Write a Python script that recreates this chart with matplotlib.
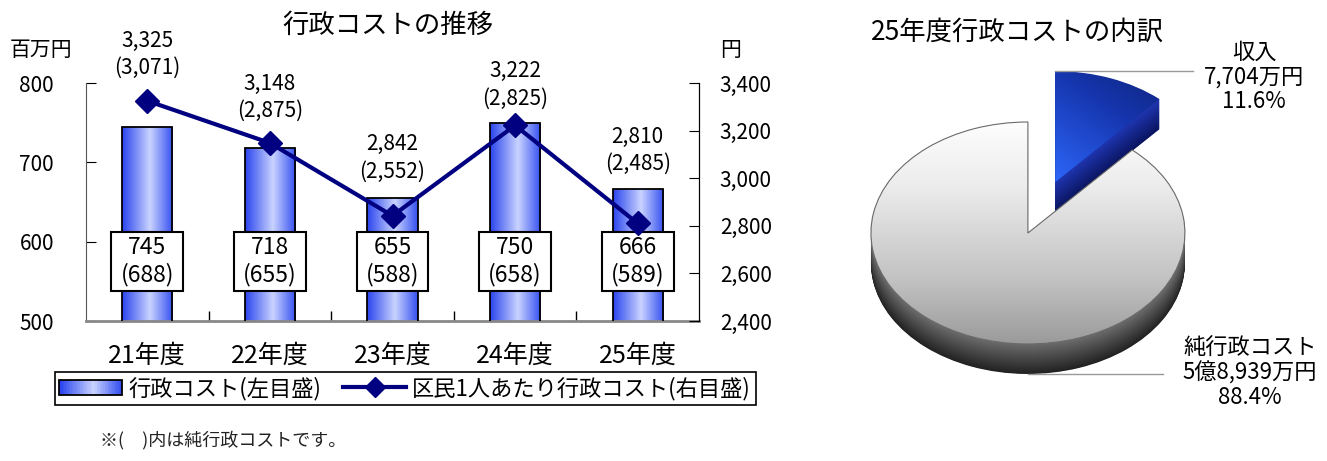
import numpy as np
import matplotlib
matplotlib.use('Agg')
import matplotlib.pyplot as plt
from matplotlib.patches import Rectangle
from matplotlib.colors import LinearSegmentedColormap, to_rgb
from matplotlib.legend_handler import HandlerBase
from matplotlib.lines import Line2D

plt.rcParams['font.family'] = ['Noto Sans CJK JP', 'DejaVu Sans']

# ---------------- data ----------------
years = ['21年度', '22年度', '23年度', '24年度', '25年度']
cost = [745, 718, 655, 750, 666]              # 行政コスト (百万円)
net_cost = [688, 655, 588, 658, 589]          # 純行政コスト (百万円)
per_capita = [3325, 3148, 2842, 3222, 2810]   # 区民1人あたり行政コスト (円)
per_capita_net = [3071, 2875, 2552, 2825, 2485]
left_ticks = [500, 600, 700, 800]
right_ticks = [2400, 2600, 2800, 3000, 3200, 3400]

pie_labels = ['収入', '純行政コスト']
pie_amounts = ['7,704万円', '5億8,939万円']
pie_values = [7704, 58939]

# label offsets above line points (points) - layout only
label_offsets = [16, 15, 24, 11.5, 35]

# ---------------- figure ----------------
W, H = 1327, 461
fig = plt.figure(figsize=(W / 100, H / 100), dpi=100)


def fx(px):
    return px / W


def fy(py):
    return 1 - py / H


NAVY = '#000080'
bar_cmap = LinearSegmentedColormap.from_list(
    'bar', [(0, '#2a44ee'), (0.55, '#c9d3ff'), (1, '#3550f0')])

ax = fig.add_axes([fx(86), fy(321), fx(699) - fx(86), fy(83) - fy(321)])
ax2 = ax.twinx()
x = np.arange(len(years))

bw = 0.41
bars = ax.bar(x, cost, width=bw, facecolor='none', edgecolor='black',
              linewidth=1.3, zorder=3)
grad = np.linspace(0, 1, 256).reshape(1, -1)
for b in bars:
    im = ax.imshow(grad, cmap=bar_cmap, aspect='auto', zorder=2,
                   extent=(b.get_x(), b.get_x() + b.get_width(), 500, b.get_height()))
    im.set_clip_path(b)

# value boxes on bars
box_w, box_h, box_c = 0.587, 75, 575
for xi, c, n in zip(x, cost, net_cost):
    ax.add_patch(Rectangle((xi - box_w / 2, box_c - box_h / 2), box_w, box_h,
                           facecolor='white', edgecolor='black', lw=1.5, zorder=4))
    ax.text(xi, box_c, f'{c}\n({n})', ha='center', va='center', fontsize=16.5,
            linespacing=1.2, zorder=5)

ax.set_xlim(-0.5, len(years) - 0.5)
ax.set_ylim(left_ticks[0], left_ticks[-1])
ax.set_yticks(left_ticks)
ax.set_xticks(x, years)
ax.set_xticks(x[:-1] + 0.5, minor=True)
ax.tick_params(axis='x', which='major', length=0, pad=16, labelsize=18)
ax.tick_params(axis='x', which='minor', direction='in', length=7, width=1)
ax.tick_params(axis='y', direction='in', length=7, pad=23, labelsize=15)

ax2.plot(x, per_capita, color=NAVY, lw=3, marker='D', ms=12, zorder=6)
for xi, v, n, off in zip(x, per_capita, per_capita_net, label_offsets):
    ax2.annotate(f'{v:,}\n({n:,})', (xi, v), xytext=(0, off),
                 textcoords='offset points', ha='center', va='bottom',
                 fontsize=15, linespacing=1.3)
ax2.set_ylim(right_ticks[0], right_ticks[-1])
ax2.set_yticks(right_ticks, [f'{t:,}' for t in right_ticks])
ax2.tick_params(axis='y', direction='in', length=7, pad=15, labelsize=15)

for a in (ax, ax2):
    a.spines['top'].set_visible(False)
    a.patch.set_visible(False)
ax.spines['left'].set_color('#555555')
ax.spines['bottom'].set_color('#888888')
ax.spines['bottom'].set_linewidth(2)
ax2.spines['left'].set_visible(False)
ax2.spines['bottom'].set_visible(False)
ax2.spines['right'].set_color('black')

fig.text(fx(388), fy(25), '行政コストの推移', ha='center', va='center', fontsize=19)
fig.text(fx(41), fy(50), '百万円', ha='center', va='center', fontsize=15)
fig.text(fx(731), fy(50), '円', ha='center', va='center', fontsize=15)


# legend
class GradHandler(HandlerBase):
    def create_artists(self, legend, orig_handle, xdescent, ydescent,
                       width, height, fontsize, trans):
        n = 40
        arts = []
        x0, y0 = -xdescent, -ydescent
        cols = bar_cmap(np.linspace(0, 1, n))
        for i in range(n):
            arts.append(Rectangle((x0 + width * i / n, y0), width / n + 0.3, height,
                                  facecolor=cols[i], edgecolor='none', transform=trans))
        arts.append(Rectangle((x0, y0), width, height, facecolor='none',
                              edgecolor='black', lw=1.3, transform=trans))
        return arts


bar_proxy = Rectangle((0, 0), 1, 1)
line_proxy = Line2D([], [], color=NAVY, lw=3, marker='D', ms=10)
fig.legend([bar_proxy, line_proxy],
           ['行政コスト(左目盛)', '区民1人あたり行政コスト(右目盛)'],
           handler_map={Rectangle: GradHandler()},
           loc='upper left', bbox_to_anchor=(fx(55), fy(372)), ncol=2,
           frameon=True, fancybox=False, edgecolor='black', framealpha=1,
           fontsize=16, handlelength=2.8, handletextpad=0.3,
           columnspacing=1.0, borderpad=0.2, borderaxespad=0)
fig.legends[0].get_frame().set_linewidth(1.2)

fig.text(fx(100), fy(440), '※(\u3000)内は純行政コストです。', ha='left', va='center',
         fontsize=13, color='#222222')

# ---------------- pie ----------------
pa = fig.add_axes([fx(840), 0, fx(1327) - fx(840), 1])
explode = [0.49, 0]
depth = 0.27
N = 50


def blend(c1, c2, t):
    a, b = np.array(to_rgb(c1)), np.array(to_rgb(c2))
    return tuple(a + (b - a) * t)


for k in range(N, 0, -1):
    t = k / N
    pa.pie(pie_values, explode=explode, startangle=90, counterclock=False,
           center=(0, -depth * t), colors=[blend('#1f35b0', '#0a1560', t),
                                           blend('#6c6c6c', '#222222', t)],
           wedgeprops=dict(linewidth=0))

wedges, _ = pa.pie(pie_values, explode=explode, startangle=90, counterclock=False,
                   colors=['none', 'none'], wedgeprops=dict(linewidth=0))
wedges[1].set_edgecolor('#6a6a6a')
wedges[1].set_linewidth(0.8)

# white top gradient
gw = np.linspace(0, 1, 256).reshape(-1, 1)
wcmap = LinearSegmentedColormap.from_list(
    'w', [(0, '#ffffff'), (0.3, '#ececec'), (0.7, '#c2c2c2'), (1, '#979797')])
imw = pa.imshow(gw, cmap=wcmap, aspect='auto', extent=(-1.05, 1.05, -1.05, 1.05), zorder=2)
imw.set_clip_path(wedges[1])
# blue top gradient (diagonal)
yy, xx = np.mgrid[0:1:128j, 0:1:128j]
gb = np.clip((yy + (1 - xx)) / 2, 0, 1)
bcmap = LinearSegmentedColormap.from_list('b', ['#0a1a5c', '#1636b0', '#2f6bff'])
cx, cy = wedges[0].center
imb = pa.imshow(gb, cmap=bcmap, aspect='auto', zorder=2,
                extent=(cx - 0.05, cx + 1.05, cy - 0.05, cy + 1.05))
imb.set_clip_path(wedges[0])
for w in wedges:
    w.set_zorder(3)

pa.set_aspect('auto')
pa.set_xlim(-1.197, 1.905)
pa.set_ylim(-2.054, 2.099)
pa.axis('off')

# leader lines and labels
total = sum(pie_values)
pct = [v / total * 100 for v in pie_values]
pa.plot([cx, 1.051], [cy + 1, cy + 1], color='#999999', lw=1, zorder=4)
pa.plot([0, 0.86], [-1 - depth, -1 - depth], color='#999999', lw=1, zorder=4)
fig.text(fx(1254), fy(77), f'{pie_labels[0]}\n{pie_amounts[0]}\n{pct[0]:.1f}%',
         ha='center', va='center', fontsize=16, linespacing=1.1)
fig.text(fx(1250), fy(373), f'{pie_labels[1]}\n{pie_amounts[1]}\n{pct[1]:.1f}%',
         ha='center', va='center', fontsize=16, linespacing=1.1)
fig.text(fx(1017), fy(32), '25年度行政コストの内訳', ha='center', va='center', fontsize=19)

fig.savefig('out.png', dpi=100)
